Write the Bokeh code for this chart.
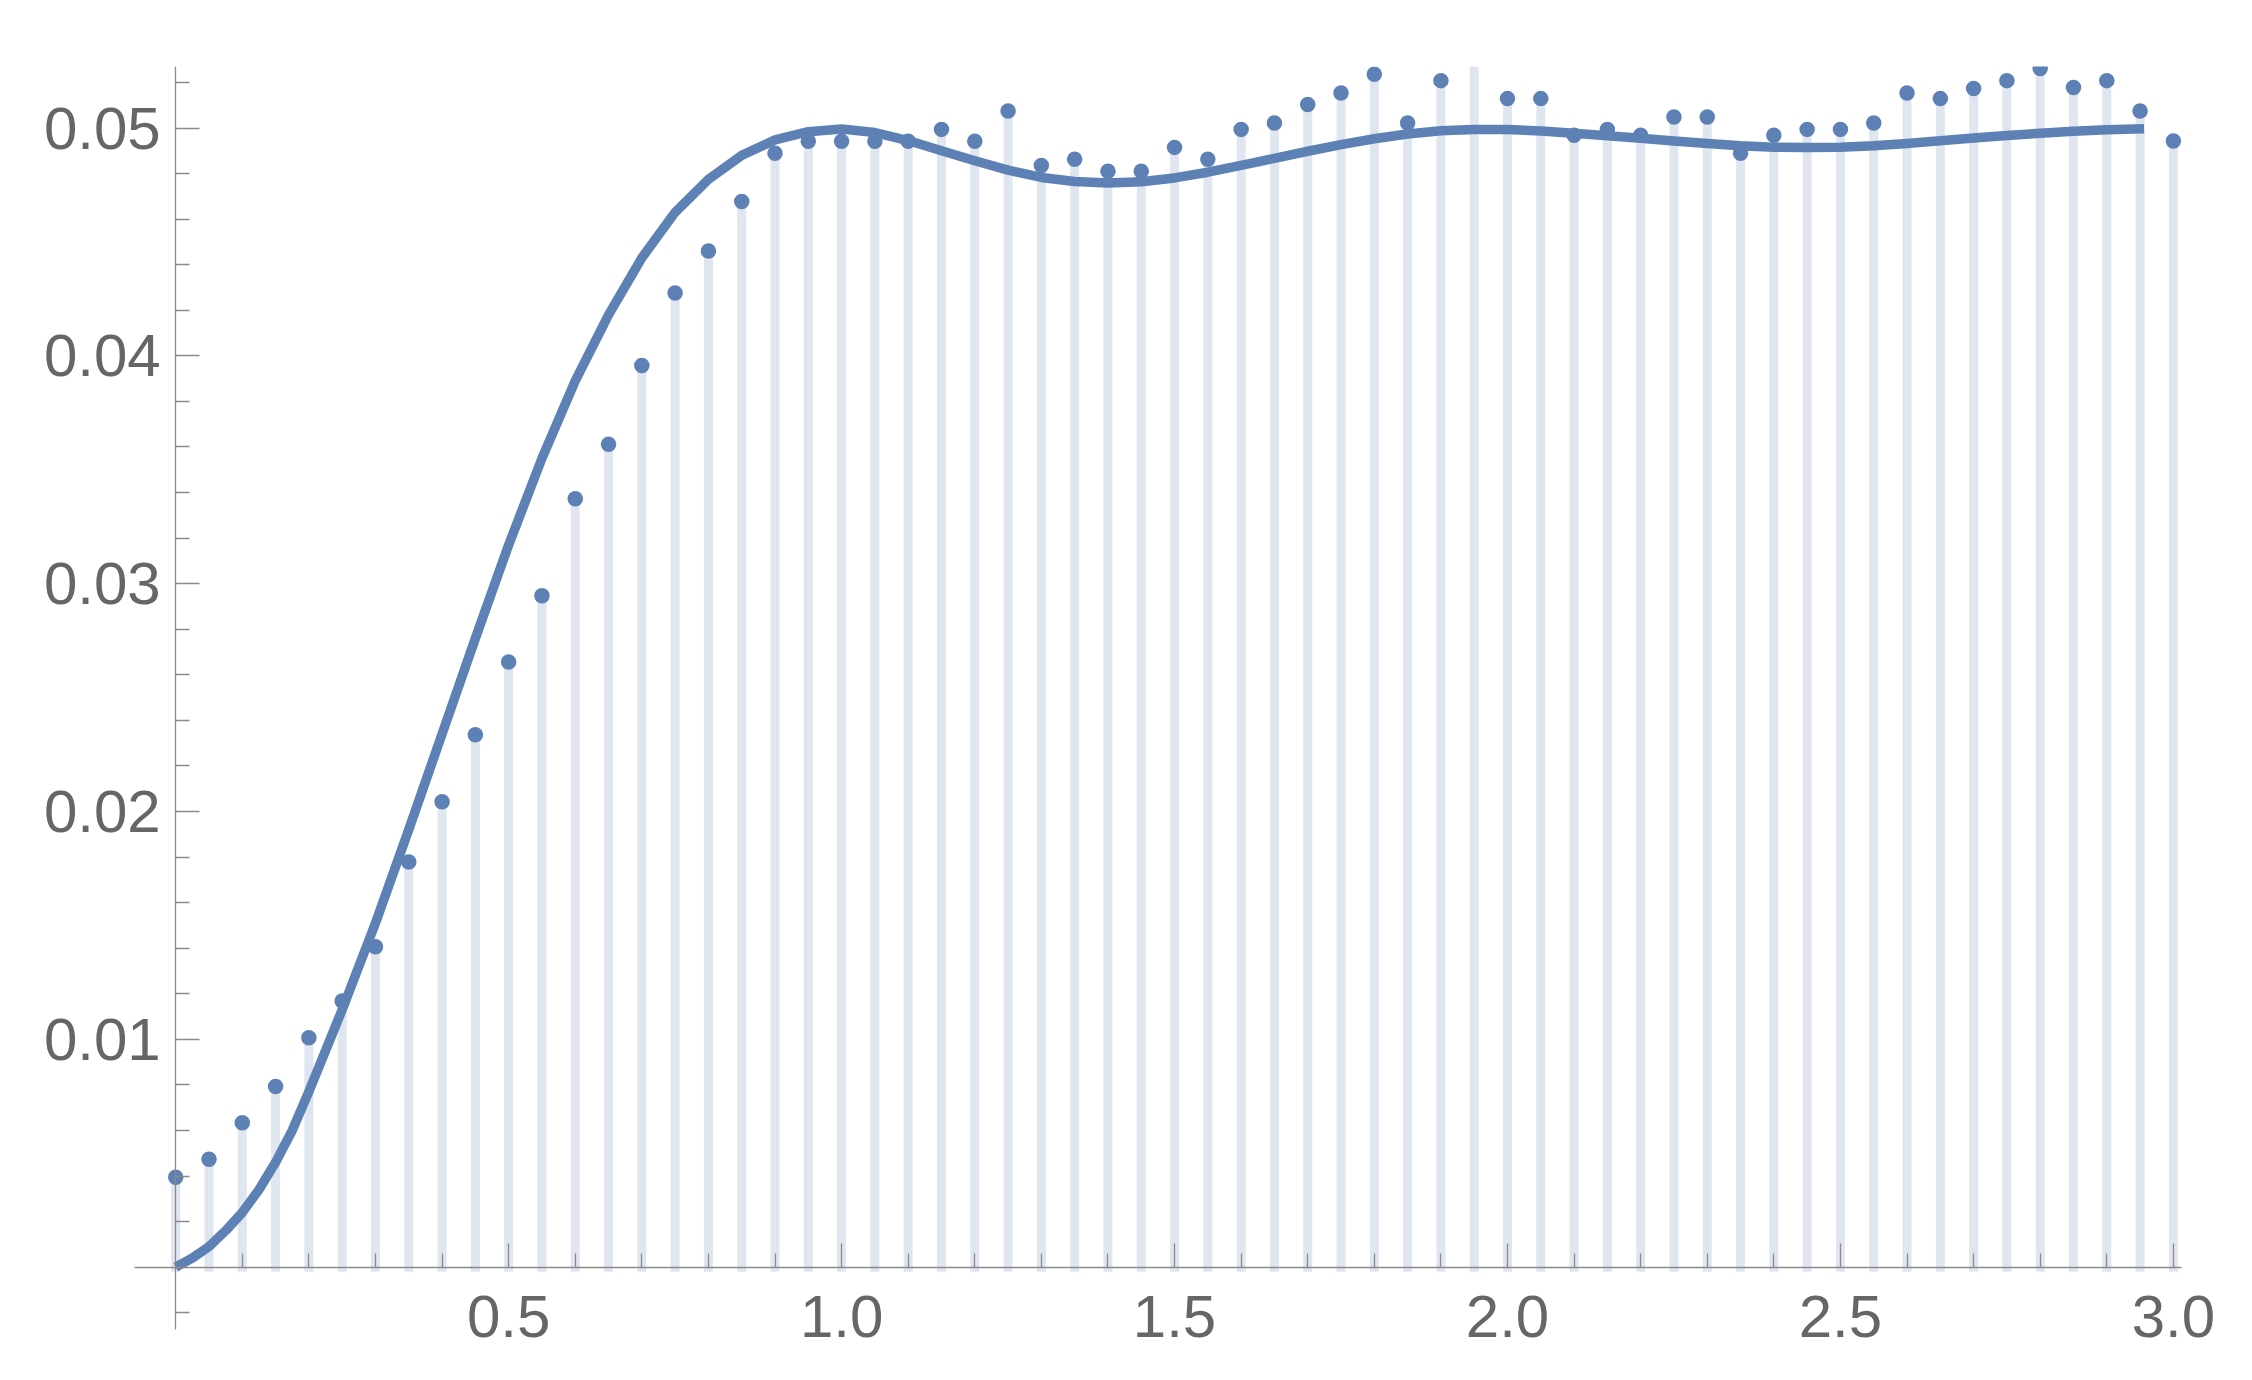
from bokeh.plotting import figure
from bokeh.models import FixedTicker, PrintfTickFormatter, Range1d, ColumnDataSource
from bokeh.embed import file_html
from bokeh.resources import INLINE

# ---- data ----
point_x = [0.00, 0.05, 0.10, 0.15, 0.20, 0.25, 0.30, 0.35, 0.40, 0.45,
           0.50, 0.55, 0.60, 0.65, 0.70, 0.75, 0.80, 0.85, 0.90, 0.95,
           1.00, 1.05, 1.10, 1.15, 1.20, 1.25, 1.30, 1.35, 1.40, 1.45,
           1.50, 1.55, 1.60, 1.65, 1.70, 1.75, 1.80, 1.85, 1.90, 1.95,
           2.00, 2.05, 2.10, 2.15, 2.20, 2.25, 2.30, 2.35, 2.40, 2.45,
           2.50, 2.55, 2.60, 2.65, 2.70, 2.75, 2.80, 2.85, 2.90, 2.95,
           3.00]
point_y = [0.00395, 0.00474, 0.00634, 0.00793, 0.01007, 0.01168, 0.01406, 0.01778, 0.02043, 0.02337,
           0.02656, 0.02947, 0.03373, 0.03612, 0.03958, 0.04276, 0.04460, 0.04677, 0.04889, 0.04942,
           0.04942, 0.04942, 0.04942, 0.04994, 0.04942, 0.05075, 0.04835, 0.04863, 0.04810, 0.04810,
           0.04915, 0.04863, 0.04994, 0.05022, 0.05103, 0.05154, 0.05236, 0.05022, 0.05208, 0.05310,
           0.05129, 0.05129, 0.04968, 0.04994, 0.04968, 0.05048, 0.05048, 0.04889, 0.04968, 0.04994,
           0.04994, 0.05022, 0.05154, 0.05129, 0.05173, 0.05208, 0.05261, 0.05178, 0.05208, 0.05075,
           0.04943]

curve_x = [0.000, 0.025, 0.050, 0.075, 0.100, 0.125, 0.150, 0.175, 0.200, 0.250,
           0.300, 0.350, 0.400, 0.450, 0.500, 0.550, 0.600, 0.650, 0.700, 0.750,
           0.800, 0.850, 0.900, 0.950, 1.000, 1.050, 1.100, 1.150, 1.200, 1.250,
           1.300, 1.350, 1.400, 1.450, 1.500, 1.550, 1.600, 1.650, 1.700, 1.750,
           1.800, 1.850, 1.900, 1.950, 2.000, 2.050, 2.100, 2.150, 2.200, 2.250,
           2.300, 2.350, 2.400, 2.450, 2.500, 2.550, 2.600, 2.650, 2.700, 2.750,
           2.800, 2.850, 2.900, 2.956]
curve_y = [0.00000, 0.00040, 0.00090, 0.00160, 0.00240, 0.00340, 0.00460, 0.00600, 0.00770, 0.01130,
           0.01510, 0.01920, 0.02340, 0.02760, 0.03170, 0.03550, 0.03890, 0.04180, 0.04430, 0.04630,
           0.04775, 0.04880, 0.04948, 0.04984, 0.04996, 0.04980, 0.04945, 0.04900, 0.04856, 0.04815,
           0.04783, 0.04765, 0.04759, 0.04764, 0.04781, 0.04806, 0.04836, 0.04867, 0.04898, 0.04927,
           0.04953, 0.04974, 0.04988, 0.04994, 0.04993, 0.04987, 0.04977, 0.04966, 0.04955, 0.04943,
           0.04932, 0.04922, 0.04916, 0.04914, 0.04916, 0.04922, 0.04932, 0.04944, 0.04956, 0.04967,
           0.04977, 0.04986, 0.04992, 0.04997]

x_major_ticks = [0.5, 1.0, 1.5, 2.0, 2.5, 3.0]
x_minor_ticks = [0.1, 0.2, 0.3, 0.4, 0.6, 0.7, 0.8, 0.9, 1.1, 1.2, 1.3, 1.4,
                 1.6, 1.7, 1.8, 1.9, 2.1, 2.2, 2.3, 2.4, 2.6, 2.7, 2.8, 2.9]
y_major_ticks = [0.01, 0.02, 0.03, 0.04, 0.05]
y_minor_ticks = [-0.002, 0.002, 0.004, 0.006, 0.008, 0.012, 0.014, 0.016, 0.018,
                 0.022, 0.024, 0.026, 0.028, 0.032, 0.034, 0.036, 0.038,
                 0.042, 0.044, 0.046, 0.048, 0.052]

# ---- styling ----
BLUE = "#5E81B5"
STEM = "#DFE6F0"
AXIS = "#8A8A8A"
LABEL = "#666666"

# the frame spans the whole canvas (below the top border) so that the axes,
# which sit at x=0 / y=0 inside the plot, are not clipped
p = figure(frame_width=2248, frame_height=1310,
           x_range=Range1d(-0.2631, 3.1128), y_range=Range1d(-0.0048, 0.0527),
           toolbar_location=None, output_backend="svg",
           min_border_left=0, min_border_top=66, min_border_right=0, min_border_bottom=0,
           background_fill_color="white", border_fill_color="white")
p.outline_line_color = None
p.grid.visible = False

src = ColumnDataSource(dict(x=point_x, y=point_y))
p.segment(x0="x", y0=0, x1="x", y1="y", source=src, line_color=STEM,
          line_width=9, line_cap="square")
p.line(curve_x, curve_y, line_color=BLUE, line_width=9.5, line_cap="butt", line_join="round")
p.scatter("x", "y", source=src, size=15.5, fill_color=BLUE, line_color=None)

xa = p.xaxis[0]
ya = p.yaxis[0]
xa.fixed_location = 0
ya.fixed_location = 0
xa.bounds = (-0.0623, 3.0117)
ya.bounds = (-0.00273, 0.0527)
xa.ticker = FixedTicker(ticks=x_major_ticks, minor_ticks=x_minor_ticks)
ya.ticker = FixedTicker(ticks=y_major_ticks, minor_ticks=y_minor_ticks)
xa.formatter = PrintfTickFormatter(format="%.1f")
ya.formatter = PrintfTickFormatter(format="%.2f")
for ax in (xa, ya):
    ax.axis_line_color = AXIS
    ax.axis_line_width = 1.3
    ax.major_tick_line_color = AXIS
    ax.minor_tick_line_color = AXIS
    ax.major_tick_line_width = 1.3
    ax.minor_tick_line_width = 1.3
    ax.major_tick_in = 24
    ax.major_tick_out = 0
    ax.minor_tick_in = 14
    ax.minor_tick_out = 0
    ax.major_label_text_font = "Liberation Sans"
    ax.major_label_text_font_size = "60px"
    ax.major_label_text_color = LABEL
xa.major_label_standoff = 29
ya.major_label_standoff = 15

open("out.html", "w").write(file_html(p, INLINE))
